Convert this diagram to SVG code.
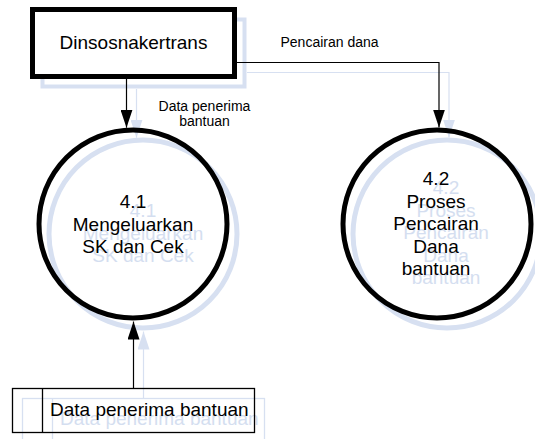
<svg xmlns="http://www.w3.org/2000/svg" width="535" height="439" viewBox="0 0 535 439">
<style>
text{font-family:"Liberation Sans",Arial,sans-serif;fill:#000}
.big{font-size:19px}
.lbl{font-size:14px}
.mid{text-anchor:middle}
.ghost text{fill:#d4def0}
.gshape{fill:none;stroke:#d7e0f1}
.ent{fill:#fff;stroke:#000;stroke-width:5}
.proc{fill:none;stroke:#000;stroke-width:5}
.store{fill:none;stroke:#000;stroke-width:1.3}
.flow{fill:none;stroke:#000;stroke-width:1.2}
</style>
<defs>
<marker id="ah" markerUnits="userSpaceOnUse" markerWidth="18" markerHeight="12" refX="18" refY="6" orient="auto">
<path d="M0,0 L18,6 L0,12 z" fill="#000"/>
</marker>
<marker id="gah" markerUnits="userSpaceOnUse" markerWidth="18" markerHeight="12" refX="18" refY="6" orient="auto">
<path d="M0,0 L18,6 L0,12 z" fill="#d7e0f1"/>
</marker>
</defs>
<rect width="535" height="439" fill="#fff"/>
<g id="ghost" class="ghost">
<g transform="translate(10,10)">
<rect class="gshape" x="32.5" y="9.5" width="202" height="67" stroke-width="4"/>
<circle class="gshape" cx="133" cy="224" r="94" stroke-width="5"/>
<circle class="gshape" cx="437" cy="224" r="94" stroke-width="5"/>
<rect class="gshape" x="12.5" y="388.5" width="242" height="44" stroke-width="1.3"/>
<line class="gshape" x1="42.5" y1="388.5" x2="42.5" y2="432.5" stroke-width="1.3"/>
<path class="gshape" d="M237,62.5 H439 V127.5" stroke-width="1.2" marker-end="url(#gah)"/>
<path class="gshape" d="M126.5,79 V127.7" stroke-width="1.2" marker-end="url(#gah)"/>
<path class="gshape" d="M133.5,388 V321.5" stroke-width="1.2" marker-end="url(#gah)"/>
</g>
<g transform="translate(10,9)">
<text class="big mid" x="133.5" y="49">Dinsosnakertrans</text>
<text class="big mid" x="133" y="208">4.1</text>
<text class="big mid" x="133" y="230.5">Mengeluarkan</text>
<text class="big mid" x="133" y="252.5">SK dan Cek</text>
<text class="big mid" x="436" y="185">4.2</text>
<text class="big mid" x="436" y="207.5">Proses</text>
<text class="big mid" x="436" y="230">Pencairan</text>
<text class="big mid" x="436" y="252.5">Dana</text>
<text class="big mid" x="436" y="275">bantuan</text>
<text class="big" x="50" y="416">Data penerima bantuan</text>
</g>
</g>
<g id="connectors">
<path class="flow" d="M237,62.5 H439 V127.5" marker-end="url(#ah)"/>
<path class="flow" d="M126.5,79 V127.7" marker-end="url(#ah)"/>
<path class="flow" d="M133.5,388 V321.5" marker-end="url(#ah)"/>
<text class="lbl" x="280.5" y="46.5">Pencairan dana</text>
<text class="lbl mid" x="204.5" y="111">Data penerima</text>
<text class="lbl mid" x="204.5" y="125.5">bantuan</text>
</g>
<g id="dinsosnakertrans">
<rect class="ent" x="32.5" y="9.5" width="202" height="67"/>
<text class="big mid" x="133.5" y="49">Dinsosnakertrans</text>
</g>
<g id="p41">
<circle class="proc" cx="133" cy="224" r="94"/>
<text class="big mid" x="133" y="208">4.1</text>
<text class="big mid" x="133" y="230.5">Mengeluarkan</text>
<text class="big mid" x="133" y="252.5">SK dan Cek</text>
</g>
<g id="p42">
<circle class="proc" cx="437" cy="224" r="94"/>
<text class="big mid" x="436" y="185">4.2</text>
<text class="big mid" x="436" y="207.5">Proses</text>
<text class="big mid" x="436" y="230">Pencairan</text>
<text class="big mid" x="436" y="252.5">Dana</text>
<text class="big mid" x="436" y="275">bantuan</text>
</g>
<g id="datastore">
<rect class="store" x="12.5" y="388.5" width="242" height="44"/>
<line class="store" x1="42.5" y1="388.5" x2="42.5" y2="432.5"/>
<text class="big" x="50" y="416">Data penerima bantuan</text>
</g>
</svg>
